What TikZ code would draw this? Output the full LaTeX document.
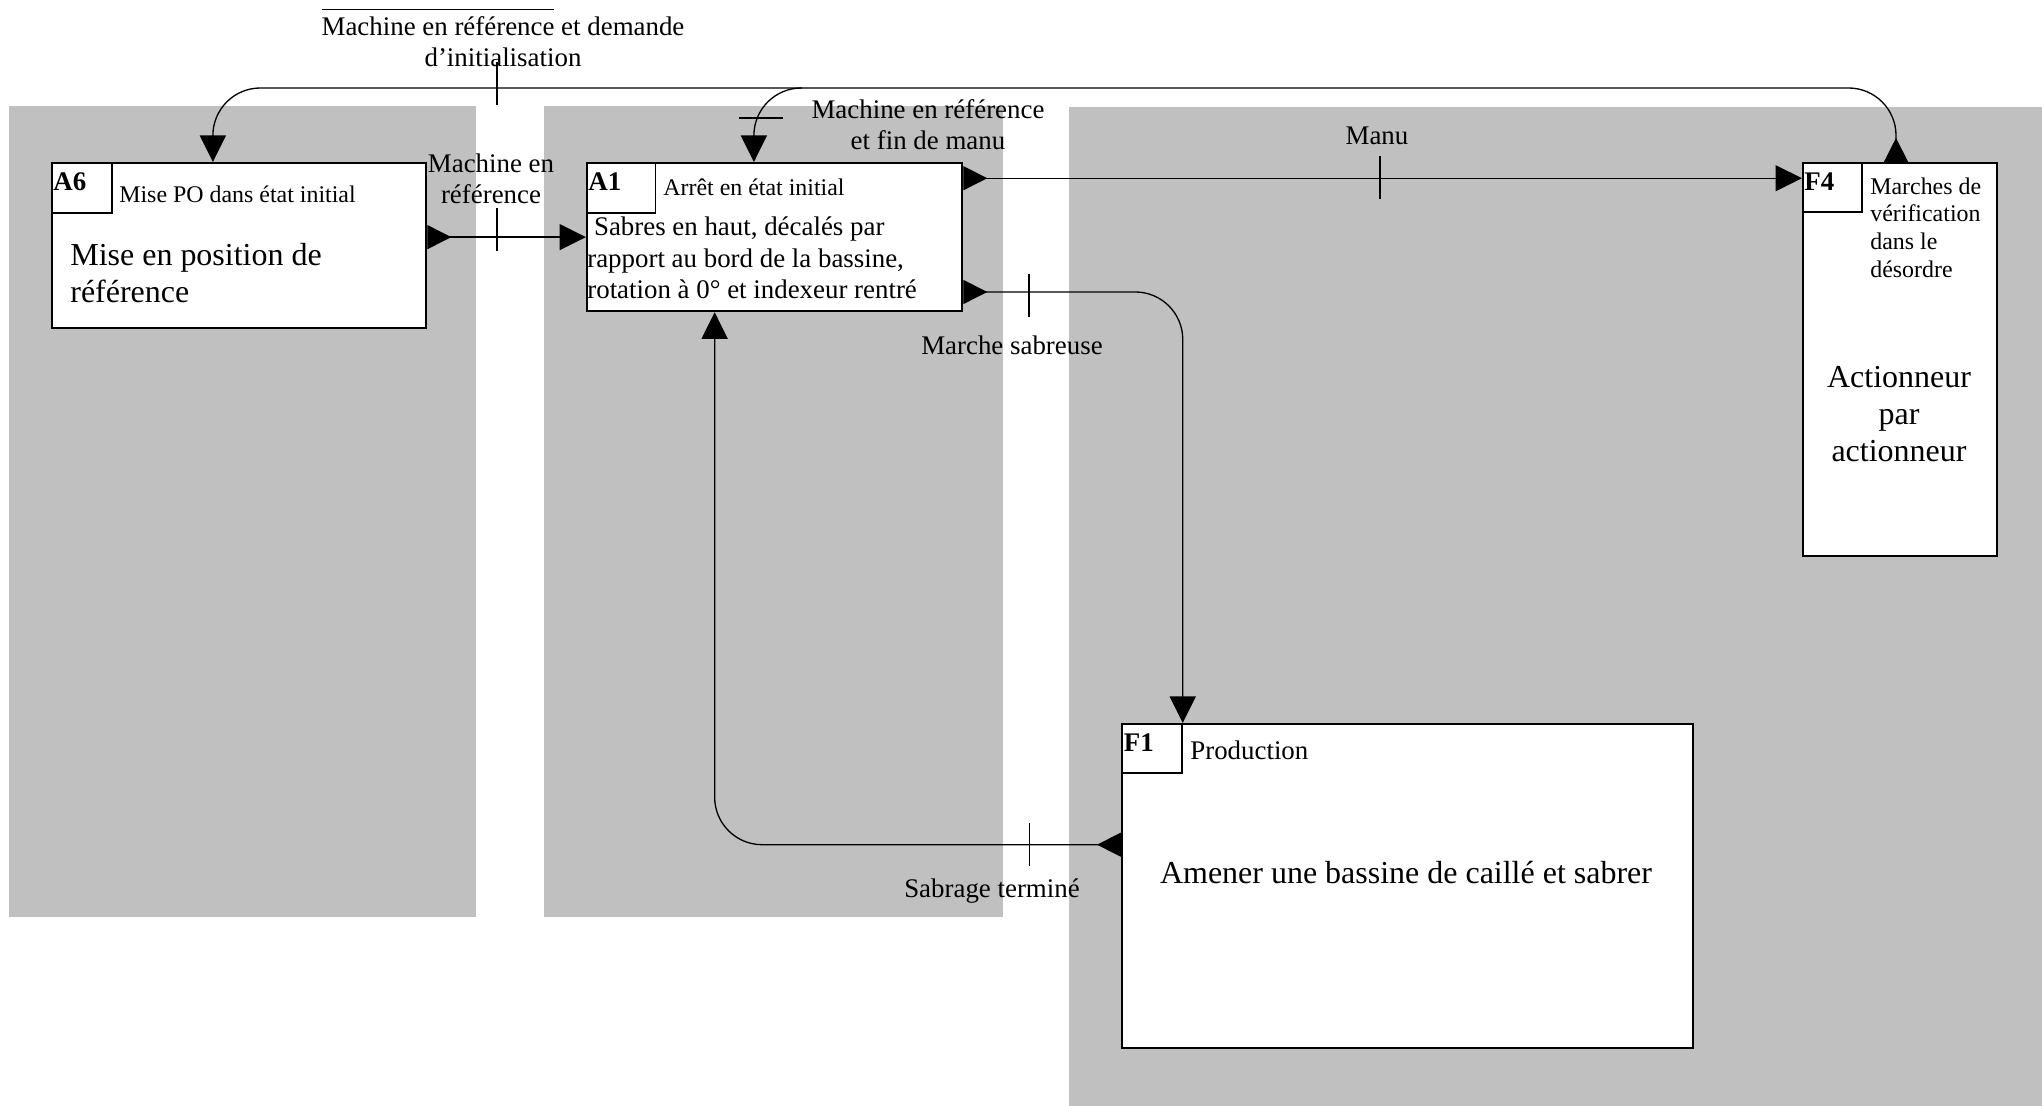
\documentclass[tikz,border=0pt]{standalone}
\usepackage{fontspec}
\setmainfont{Liberation Serif}
\usetikzlibrary{arrows.meta}
\usetikzlibrary{calc}
\usetikzlibrary{positioning}
\definecolor{fond}{RGB}{192,192,192}
\newcommand{\barre}[1]{\vbox{\hrule height 0.7pt\kern 3.5pt\hbox{#1}}}
\tikzset{
  etat/.style={draw, line width=1.3pt, fill=white, anchor=north west, inner sep=0pt},
  tag/.style={draw, line width=1pt, anchor=north west, inner sep=0pt, minimum width=12mm, minimum height=10mm},
  petit/.style={font=\fontsize{13.6}{15.8}\selectfont, inner sep=0pt},
  moyen/.style={font=\fontsize{15.3}{17.8}\selectfont, inner sep=0pt},
  grand/.style={font=\fontsize{18.2}{21}\selectfont, inner sep=0pt},
  code/.style={font=\fontsize{15.3}{17.8}\selectfont\bfseries, inner sep=0pt, anchor=west},
  flow/.style={line width=0.75pt, arrows={-Triangle[length=5.3mm, width=5.2mm]}},
  sortie/.style={line width=0.75pt, arrows={Triangle[reversed, length=4.8mm, width=4.8mm]-Triangle[length=5.3mm, width=5.2mm]}},
  trait/.style={line width=0.6pt}
}

\begin{document}
\begin{tikzpicture}[x=2mm, y=2mm]
    \useasboundingbox (0, 0) rectangle (204.2, 110.6);
    \fill [white] (0, 0) rectangle (204.2, 110.6);

    \fill [fond] (0.85, 18.93) rectangle (47.55, 100.0);
    \fill [fond] (54.37, 18.93) rectangle (100.27, 100.0);
    \fill [fond] (106.9, 0) rectangle (204.2, 99.9);

    \node [etat, minimum width=74.9mm, minimum height=33mm] (A6) at (5.05, 94.4) {};
    \node [tag, minimum width=12.1mm] (A6t) at (A6.north west) {};
    \node [etat, minimum width=75mm, minimum height=29.6mm] (A1) at (58.6, 94.4) {};
    \node [tag, minimum width=13.7mm] (A1t) at (A1.north west) {};
    \node [etat, minimum width=38.8mm, minimum height=78.6mm] (F4) at (180.2, 94.4) {};
    \node [tag, minimum width=11.8mm, minimum height=9.8mm] (F4t) at (F4.north west) {};
    \node [etat, minimum width=114.2mm, minimum height=64.8mm] (F1) at (112.1, 38.3) {};
    \node [tag, minimum height=9.8mm] (F1t) at (F1.north west) {};

    \node [code] (A6c) at (5.3, 92.4) {A6};
    \node [code] (A1c) at (58.8, 92.4) {A1};
    \node [code] (F4c) at (180.4, 92.4) {F4};
    \node [code] (F1c) at (112.35, 36.3) {F1};

    \node [petit, anchor=west] (A6titre) at (11.9, 91.2) {Mise PO dans état initial};
    \node [grand, anchor=west, align=left] (A6texte) at (7.0, 83.25) {Mise en position de\\référence};
    \node [petit, anchor=west] (A1titre) at (66.3, 91.9) {Arrêt en état initial};
    \node [moyen, anchor=west, align=left] (A1texte) at (58.7, 84.8) {\ Sabres en haut, décalés par\\rapport au bord de la bassine,\\rotation à 0° et indexeur rentré};
    \node [petit, anchor=west, align=left] (F4titre) at (187.0, 87.85) {Marches de\\vérification\\dans le\\désordre};
    \node [grand, align=center] (F4texte) at (189.9, 69.2) {Actionneur\\par\\actionneur};
    \node [moyen, anchor=west] (F1titre) at (119.0, 35.6) {Production};
    \node [grand] (F1texte) at (140.6, 23.3) {Amener une bassine de caillé et sabrer};

    \node [moyen, align=center] (init) at (50.3, 106.8) {\barre{Machine en référence} et demande\\d’initialisation};
    \node [moyen, align=center] (mref) at (49.1, 92.7) {Machine en\\référence};
    \node [moyen, align=center] (mfin) at (92.8, 98.15) {Machine en référence\\et fin de manu};
    \node [moyen] (manu) at (137.7, 97.0) {Manu};
    \node [moyen] (msab) at (101.2, 76.1) {Marche sabreuse};
    \node [moyen] (sabt) at (99.2, 21.5) {Sabrage terminé};

    \coordinate (split) at (80.2, 101.8);
    \draw [sortie, rounded corners=9.5mm] ($(F4.north west)!0.479!(F4.north east)$) -- ++(0, 7.4) -| ($(A6.north west)!0.431!(A6.north east)$);
    \draw [flow, rounded corners=9.5mm] (split) -| ($(A1.north west)!0.445!(A1.north east)$);
    \draw [sortie] (A6.east |- A1.west) -- (A1.west);
    \draw [sortie] ($(A1.north east)!0.108!(A1.south east)$) coordinate (a1m) -- (F4.west |- a1m);
    \draw [sortie, rounded corners=9.5mm] ($(A1.north east)!0.865!(A1.south east)$) -| (F1t.north east);
    \draw [sortie, rounded corners=9.5mm] ($(F1.north west)!0.373!(F1.south west)$) -| ($(A1.south west)!0.341!(A1.south east)$);

    \foreach \x/\y in {49.7/102.2, 49.7/87.6, 138.0/92.8, 102.9/81.0, 102.95/26.15}
      \draw [trait] (\x, \y) ++(0, 2.15) -- ++(0, -4.3);
    \draw [trait] (73.85, 98.8) -- ++(4.4, 0);
\end{tikzpicture}
\end{document}
